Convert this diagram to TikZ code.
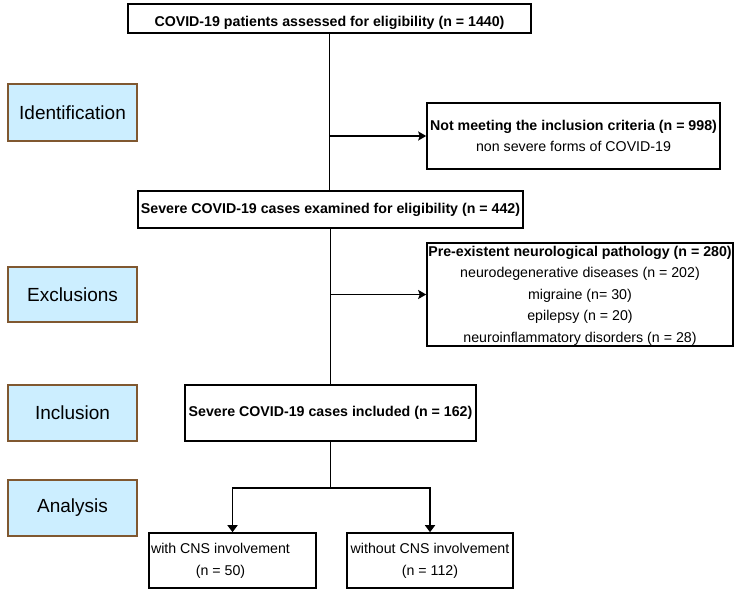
\documentclass[tikz,border=0pt]{standalone}
\usepackage{fontspec}
\setmainfont{Liberation Sans}
\usetikzlibrary{arrows.meta}
\definecolor{stagefill}{RGB}{204,238,255}
\definecolor{stageline}{RGB}{128,88,48}
\tikzset{
  flowbox/.style={draw=black, line width=1.6pt, fill=white, inner sep=0pt, align=center,
    font=\fontsize{14.2}{21.5}\selectfont},
  flowtext/.style={inner sep=0pt, align=center, font=\fontsize{14.2}{21.5}\selectfont},
  stagebox/.style={draw=stageline, line width=1.6pt, fill=stagefill, inner sep=0pt,
    minimum width=129pt, font=\fontsize{19}{22}\selectfont},
  link/.style={line width=1.6pt, draw=black},
  sidearrow/.style={link, -{Stealth[length=8pt,width=9pt,inset=1.5pt]}},
  downarrow/.style={link, -{Triangle[length=7pt,width=10pt]}},
}
\begin{document}
\begin{tikzpicture}[x=1pt,y=-1pt]
\useasboundingbox (0,0) rectangle (741,597);
% stage labels
\node[stagebox, minimum height=57pt] (ident) at (72.5,112.5) {Identification};
\node[stagebox, minimum height=55pt] (excl) at (72.5,294.5) {Exclusions};
\node[stagebox, minimum height=56pt] (incls) at (72.5,413) {Inclusion};
\node[stagebox, minimum height=56pt] (anal) at (72.5,508) {Analysis};
% flow boxes
\node[flowbox, minimum width=403pt, minimum height=29pt] (top) at (329.5,18.5) {};
\node[flowtext] (toptxt) at ([yshift=-4pt]top.center) {\textbf{COVID-19 patients assessed for eligibility (n = 1440)}};
\node[flowbox, minimum width=293pt, minimum height=66pt] (nm) at (573.5,136) {\textbf{Not meeting the inclusion criteria (n = 998)}\\non severe forms of COVID-19};
\node[flowbox, minimum width=385pt, minimum height=37pt] (sev) at (330.5,209.5) {\textbf{Severe COVID-19 cases examined for eligibility (n = 442)}};
\node[flowbox, minimum width=306pt, minimum height=103pt] (pre) at (580,294.5) {};
\node[flowtext, font=\fontsize{14.2}{21.6}\selectfont] (pretxt) at ([yshift=-1.2pt]pre.center) {\textbf{Pre-existent neurological pathology (n = 280)}\\neurodegenerative diseases (n = 202)\\migraine (n= 30)\\epilepsy (n = 20)\\neuroinflammatory disorders (n = 28)};
\node[flowbox, minimum width=291pt, minimum height=56pt] (inc) at (330.5,413) {\textbf{Severe COVID-19 cases included (n = 162)}};
\node[flowbox, minimum width=167pt, minimum height=55pt] (with) at (232.5,560.5) {};
\node[flowtext, font=\fontsize{14.2}{22}\selectfont] (withtxt) at ([xshift=-12pt]with.center) {with CNS involvement\\(n = 50)};
\node[flowbox, minimum width=166pt, minimum height=55pt, font=\fontsize{14.2}{22}\selectfont] (without) at (430,560.5) {without CNS involvement\\(n = 112)};
% connectors
\coordinate (split) at (330.5,488);
\draw[link] (top.south) -- (top.south |- sev.north);
\draw[sidearrow] (top.south |- nm.west) -- (nm.west);
\draw[link] (sev.south) -- (sev.south |- inc.north);
\draw[sidearrow] (sev.south |- pre.west) -- (pre.west);
\draw[link] (inc.south) -- (split);
\draw[downarrow] (split) -| (with.north);
\draw[downarrow] (split) -| (without.north);
\end{tikzpicture}
\end{document}
